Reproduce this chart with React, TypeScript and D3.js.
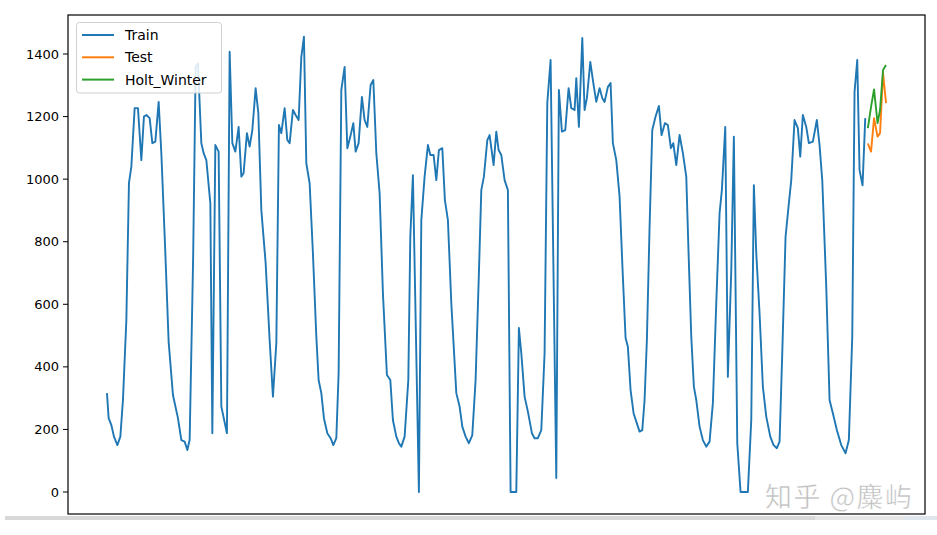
import React from "react";
import * as d3 from "d3";

// x positions (time index units) and values
const trainT = [0.3,2,4.7,7.3,10.7,13.7,16.3,19.7,22.3,24.7,28,31.3,34.7,37.3,39.7,43,45.7,48.7,52,54.7,58.7,62,66.3,71.3,74.7,78,80.7,83,86.5,89,91.3,94.7,97,99.7,103.7,105.7,108.7,112,114.7,120.3,123,125.7,128.7,132,134.7,137,140.3,143,145.7,149,151.7,154.7,159,163,166.3,169.7,172.3,174.7,178,180.7,183,186.3,189,192,194.7,197.3,199.7,203,206.3,209.7,212,214.7,217.3,220.7,224,226.7,229.7,232,234.7,238,240.7,243.7,246.7,249,252,255.3,258,260.7,264,266.7,269.7,273,276.3,280.3,283.7,286.3,289.7,292.3,294.7,298,301.7,303.7,306.3,312.3,314.7,318,321.3,323.7,327,329.7,332.3,335.7,338.3,341.3,344.7,349.7,353,355.7,359,362.3,365.7,369,372.3,374.7,377.3,380.7,383,387,389.7,392,394.7,398,401.3,404,409.7,412.3,414.7,418,421.3,425.3,428,431.3,434.7,438,440.7,444,449.7,452.3,455.3,458.7,462,464.7,468,469.7,472.3,475.7,478,480.3,483.7,487,489.7,493,495.7,498,501.3,504,506.3,509.7,513,516,519,521.3,524,527,529.7,533,535.7,538,540.3,543,545.7,549,552.3,555,558.3,561.3,564.3,566.7,569.7,573,576.3,579.7,582,584.7,587.3,589.7,593,596.3,599.7,603,606.3,609.7,613,615.3,618.7,621.3,624.7,627.3,630.7,634,641.3,644.7,647.3,649.7,653,656.3,659.7,663.7,667,670.3,673,675.7,679,682.3,684.7,688,691.3,693.7,696.3,699.7,702.3,706.3,710.3,713,715.7,719.7,723,726.3,730.3,734.7,739,742.3,745.7,748,750.7,753,756,758.7];
const trainV = [316,236,214,177,150,177,294,550,987,1040,1227,1227,1061,1200,1205,1195,1115,1120,1247,1083,763,480,310,236,166,161,134,166,750,1359,1370,1115,1083,1061,923,188,1109,1088,273,188,1407,1115,1088,1167,1008,1020,1147,1104,1157,1291,1211,901,732,486,305,476,1173,1147,1227,1125,1115,1221,1205,1189,1391,1455,1050,987,763,496,358,316,236,188,172,150,172,380,1285,1359,1099,1136,1179,1088,1115,1263,1189,1167,1301,1317,1083,955,636,374,358,230,177,156,145,177,358,816,1013,0,869,1008,1109,1077,1077,997,1093,1099,933,869,604,316,273,209,177,156,182,358,700,965,1008,1125,1141,1045,1152,1093,1077,997,965,0,0,524,444,305,257,188,172,172,198,444,1243,1381,45,1285,1152,1157,1291,1227,1221,1323,1167,1451,1221,1259,1375,1301,1247,1291,1259,1247,1295,1307,1115,1061,944,709,492,464,326,252,225,193,198,294,486,848,1157,1200,1234,1141,1179,1173,1099,1115,1045,1141,1083,1008,763,496,337,294,209,166,145,161,284,604,891,965,1167,368,709,1136,156,0,0,230,981,763,571,337,241,177,150,140,161,444,816,923,997,1189,1163,1072,1205,1167,1115,1120,1189,1109,997,656,294,252,198,150,124,166,496,1279,1381,1029,980,1195];

const testT = [761.3, 764.5, 767.5, 771, 773.5, 776.5, 779.5];
const testV = [1114, 1088, 1195, 1136, 1147, 1339, 1243];
const hwT = [761.3, 764.5, 767.5, 771, 773.5, 776.5, 779.5];
const hwV = [1163, 1231, 1287, 1179, 1221, 1349, 1365];

const yTicks = [0, 200, 400, 600, 800, 1000, 1200, 1400];
const seriesNames = ["Train", "Test", "Holt_Winter"];
const colors = ["#1f77b4", "#ff7f0e", "#2ca02c"];

export default function App() {
  const W = 937, H = 535;
  const left = 68, right = 925, top = 15, bottom = 514;
  const allT = [...trainT, ...testT];
  const tMin = d3.min(allT)!, tMax = d3.max(allT)!;
  const pad = (tMax - tMin) * 0.05;
  const x = d3.scaleLinear().domain([tMin - pad, tMax + pad]).range([left, right]);
  const y = d3.scaleLinear().domain([-70.3, 1524.7]).range([bottom, top]);
  const line = d3.line<[number, number]>().x(d => x(d[0])).y(d => y(d[1]));
  const trainPts = trainT.map((t, i) => [t, trainV[i]] as [number, number]);
  const testPts = testT.map((t, i) => [t, testV[i]] as [number, number]);
  const hwPts = hwT.map((t, i) => [t, hwV[i]] as [number, number]);
  const font = "'DejaVu Sans', sans-serif";
  return (
    <svg width={W} height={H} style={{ position: "absolute", left: 0, top: 0, background: "#fff" }}>
      <rect x={0} y={0} width={W} height={H} fill="#fff" />
      {/* bottom grey strip */}
      <rect x={5} y={516} width={810} height={4} fill="#d8d8d8" />
      <rect x={815} y={516} width={90} height={4} fill="#e6e6e6" />
      <rect x={905} y={516} width={32} height={4} fill="#dfe6ee" />
      <path d={line(trainPts)!} fill="none" stroke={colors[0]} strokeWidth={1.9} strokeLinejoin="round" />
      <path d={line(testPts)!} fill="none" stroke={colors[1]} strokeWidth={1.9} strokeLinejoin="round" />
      <path d={line(hwPts)!} fill="none" stroke={colors[2]} strokeWidth={1.9} strokeLinejoin="round" />
      {yTicks.map(v => (
        <g key={v}>
          <line x1={left - 5} x2={left} y1={y(v)} y2={y(v)} stroke="#000" strokeWidth={1} />
          <text x={left - 9} y={y(v)} dy="0.35em" textAnchor="end" fontFamily={font} fontSize={13} fill="#000">{v}</text>
        </g>
      ))}
      <rect x={left} y={top} width={right - left} height={bottom - top} fill="none" stroke="#000" strokeWidth={1.2} />
      {/* legend */}
      <rect x={76.5} y={22.5} width={145} height={70.5} rx={3} fill="#fff" fillOpacity={0.85} stroke="#d0d0d0" strokeWidth={1} />
      {seriesNames.map((n, i) => (
        <g key={n}>
          <line x1={82} x2={114} y1={35 + i * 22.3} y2={35 + i * 22.3} stroke={colors[i]} strokeWidth={2} />
          <text x={125} y={35 + i * 22.3} dy="0.35em" fontFamily={font} fontSize={14} fill="#000">{n}</text>
        </g>
      ))}
      {/* watermark */}
      <text x={765} y={507} fontFamily="'Noto Sans CJK SC', sans-serif" fontSize={27} fill="#bdbdbd" stroke="#fff" strokeWidth={0.5} letterSpacing={1.5}>知乎 @麋屿</text>
    </svg>
  );
}
